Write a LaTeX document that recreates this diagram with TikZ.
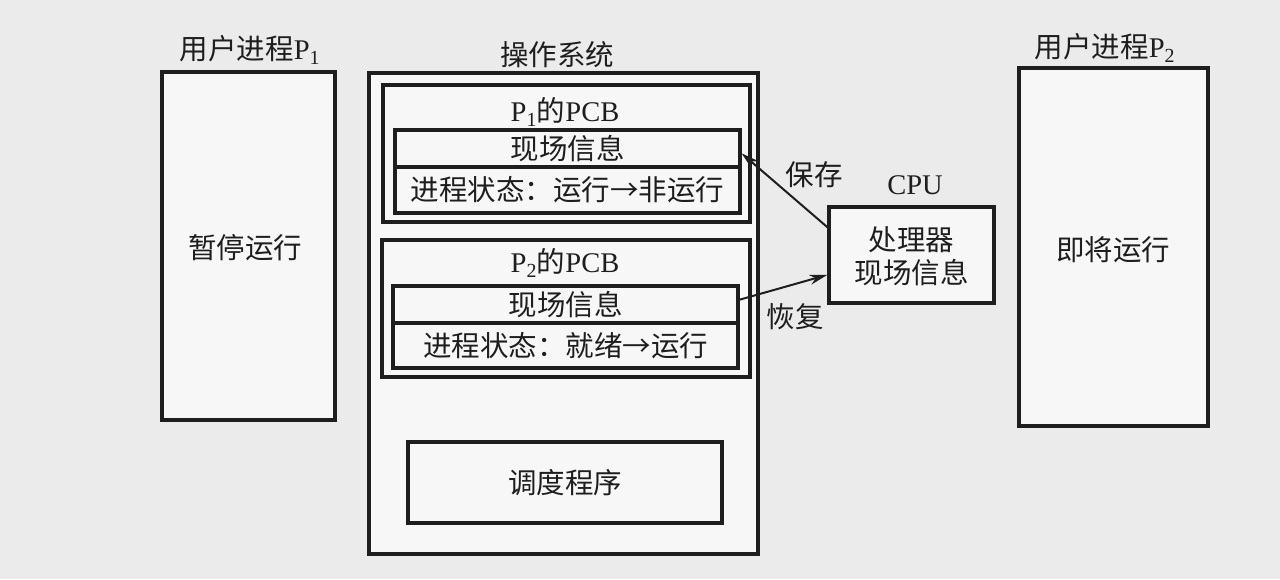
\documentclass[tikz,border=0pt]{standalone}
\usepackage{fontspec}
\setmainfont{Liberation Serif}
\newfontfamily\cjk{Noto Sans CJK SC}
\usetikzlibrary{calc,arrows.meta}
\definecolor{ink}{HTML}{1E1E1E}
\definecolor{paper}{HTML}{EBEBEB}
\definecolor{boxfill}{HTML}{F7F7F7}
\newcommand{\lt}[1]{{\rmfamily #1}}
\begin{document}
\begin{tikzpicture}[x=1pt,y=-1pt,
  box/.style={draw=ink,line width=3.2pt,fill=boxfill,inner sep=0pt},
  cell/.style={draw=ink,line width=3.2pt,inner sep=0pt,minimum width=345pt},
  txt/.style={text=ink,inner sep=0pt,font=\cjk\fontsize{28.5}{33}\selectfont},
  arr/.style={draw=ink,line width=2pt,-{Stealth[length=18pt,width=10pt]}}]
\useasboundingbox (0,0) rectangle (1280,579);
\fill[paper] (0,0) rectangle (1280,579);
% user processes
\node[box,minimum width=173pt,minimum height=348pt] (p1) at (248.5,246) {};
\node[txt] (p1t) at (245,248) {暂停运行};
\node[txt] (p1l) at (250,50) {用户进程\lt{P\textsubscript{1}}};
\node[box,minimum width=189pt,minimum height=358pt] (p2) at (1113.5,247) {};
\node[txt] (p2t) at (1113,250) {即将运行};
\node[txt] (p2l) at (1105,48) {用户进程\lt{P\textsubscript{2}}};
% OS
\node[box,minimum width=389pt,minimum height=481pt] (os) at (563.5,313.5) {};
\node[txt] (osl) at (557,55) {操作系统};
% PCB1
\node[box,minimum width=367pt,minimum height=137pt] (pcb1) at (566.5,153.5) {};
\node[txt] (pcb1l) at (565,112) {\lt{P\textsubscript{1}}的\lt{PCB}};
\node[cell,minimum height=37pt] (f1) at (567.5,148.5) {};
\node[cell,minimum height=46pt] (s1) at (567.5,190) {};
\node[txt] at (f1) {现场信息};
\node[txt] at (s1) {进程状态：运行→非运行};
% PCB2
\node[box,minimum width=368pt,minimum height=137pt] (pcb2) at (566,308.5) {};
\node[txt] (pcb2l) at (565,263) {\lt{P\textsubscript{2}}的\lt{PCB}};
\node[cell,minimum height=37pt] (f2) at (565.5,304.5) {};
\node[cell,minimum height=45pt] (s2) at (565.5,345.5) {};
\node[txt] at (f2) {现场信息};
\node[txt] at (s2) {进程状态：就绪→运行};
% scheduler
\node[box,minimum width=314pt,minimum height=81pt] (sch) at (565,482.5) {};
\node[txt] at (sch) {调度程序};
% CPU
\node[box,minimum width=165pt,minimum height=96pt] (cpu) at (911.5,255) {};
\node[txt,align=center] at (911.5,256) {处理器\\现场信息};
\node[txt] (cpul) at (915,185) {\lt{CPU}};
% arrows
\coordinate (a1) at ($(cpu.north west)!0.22!(cpu.south west)$);
\coordinate (b1) at ($(f1.north east)!0.62!(f1.south east)$);
\coordinate (a2) at ($(f2.north east)!0.38!(f2.south east)$);
\coordinate (b2) at ($(cpu.north west)!0.70!(cpu.south west)$);
\draw[arr] (a1) -- (b1);
\draw[arr] (a2) -- (b2);
\node[txt] (save) at (814,175) {保存};
\node[txt] (rest) at (795,317) {恢复};
\end{tikzpicture}
\end{document}
